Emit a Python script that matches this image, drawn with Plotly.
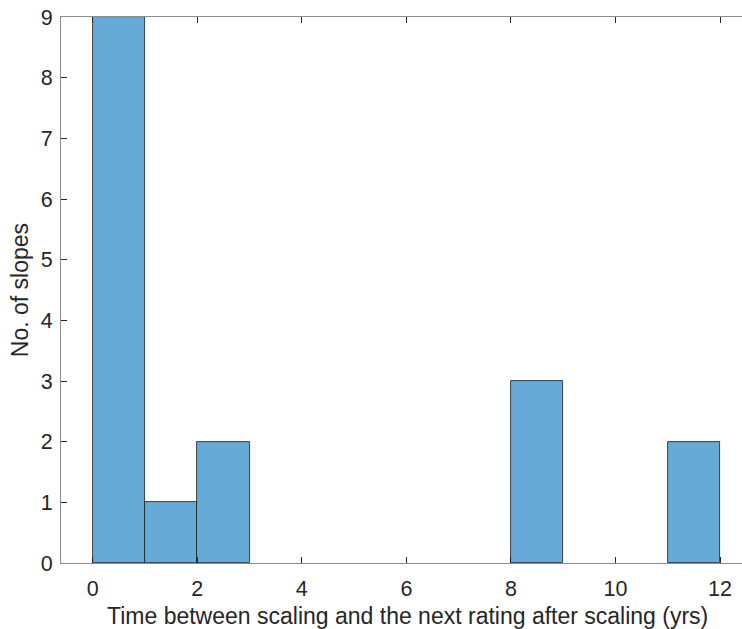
import plotly.graph_objects as go

# Histogram of time gaps, binned in whole years
bin_left = [0, 1, 2, 3, 4, 5, 6, 7, 8, 9, 10, 11]
counts = [9, 1, 2, 0, 0, 0, 0, 0, 3, 0, 0, 2]
x_ticks = [0, 2, 4, 6, 8, 10, 12]
y_ticks = [0, 1, 2, 3, 4, 5, 6, 7, 8, 9]
x_title = "Time between scaling and the next rating after scaling (yrs)"
y_title = "No. of slopes"

line_w = [0.8 if c > 0 else 0 for c in counts]

fig = go.Figure(
    go.Bar(
        x=bin_left,
        y=counts,
        width=1,
        offset=0,
        marker=dict(color="#66AAD7", line=dict(color="#1a1a1a", width=line_w)),
    )
)

FAMILY = "Liberation Sans, Arial, sans-serif"
tick_font = dict(family=FAMILY, size=21.5, color="#262626")
title_font = dict(family=FAMILY, size=23, color="#262626")

fig.update_layout(
    width=742,
    height=629,
    margin=dict(l=61, r=0, t=17, b=66),
    plot_bgcolor="white",
    paper_bgcolor="white",
    showlegend=False,
    bargap=0,
    font=tick_font,
    xaxis=dict(
        range=[-0.606, 12.42],
        tickvals=x_ticks,
        ticks="inside",
        ticklen=6,
        tickcolor="#262626",
        showline=True,
        linecolor="#8c8c8c",
        linewidth=1.2,
        mirror="ticks",
        showgrid=False,
        zeroline=False,
        tickfont=tick_font,
        ticklabelstandoff=6,
    ),
    yaxis=dict(
        range=[0, 9],
        tickvals=y_ticks,
        ticks="inside",
        ticklen=6,
        tickcolor="#262626",
        showline=True,
        linecolor="#8c8c8c",
        linewidth=1.2,
        showgrid=False,
        zeroline=False,
        tickfont=tick_font,
        ticklabelstandoff=3,
    ),
    annotations=[
        dict(
            text=x_title, font=title_font, showarrow=False,
            xref="paper", yref="paper", x=0.509, y=-0.097,
            xanchor="center", yanchor="middle",
        ),
        dict(
            text=y_title, font=title_font, showarrow=False, textangle=-90,
            xref="paper", yref="paper", x=-0.060, y=0.5,
            xanchor="center", yanchor="middle",
        ),
    ],
)

fig.write_html("out.html")
